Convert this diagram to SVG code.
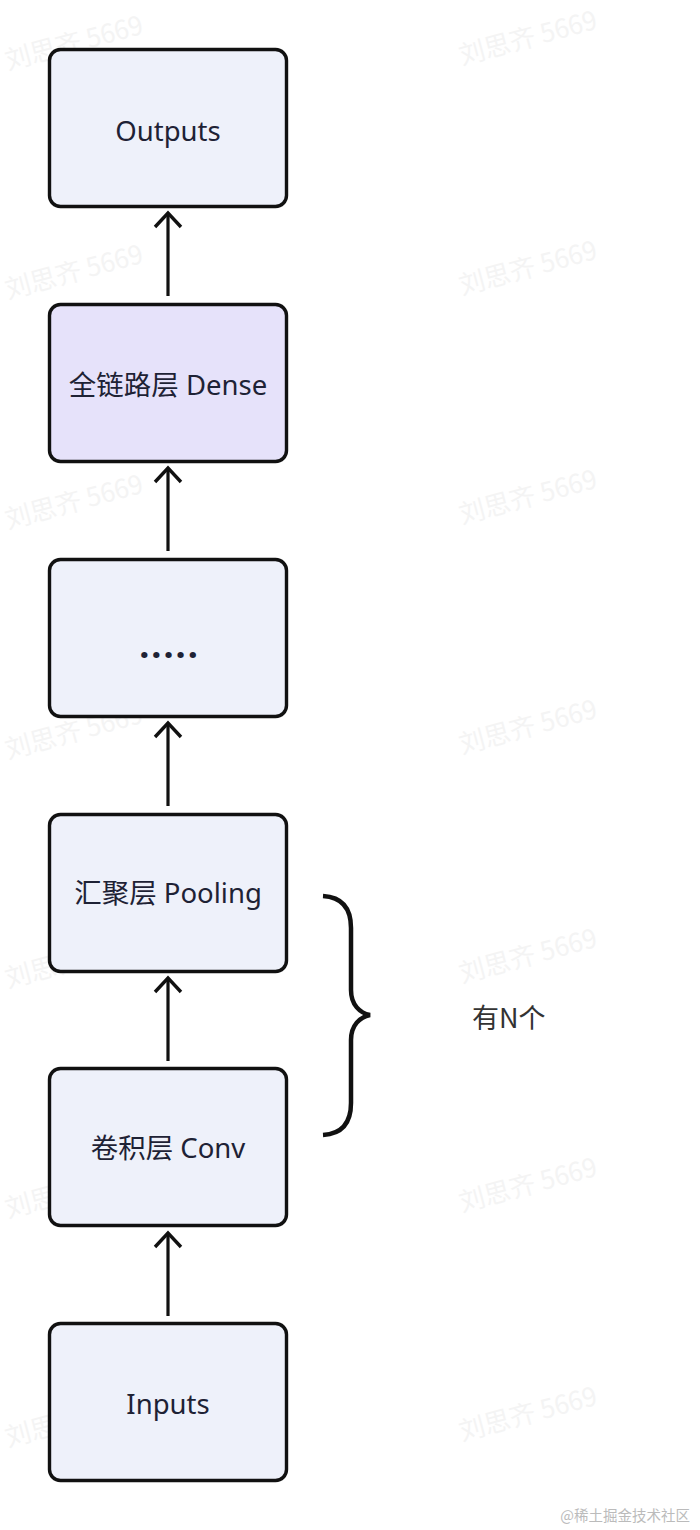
<svg xmlns="http://www.w3.org/2000/svg" width="700" height="1530" viewBox="0 0 700 1530">
  <style>
    .box { fill: #EEF1FA; stroke: #111111; stroke-width: 3.4; }
    .dense { fill: #E6E2FA; }
    .lbl { font-family: "Noto Sans", "Noto Sans CJK SC", sans-serif; font-size: 27.5px; fill: #1E2235; text-anchor: middle; }
    .wm { font-family: "Noto Sans CJK SC", sans-serif; font-size: 26px; fill: #F4F4F4; }
    .conn { stroke: #111111; stroke-width: 3.2; fill: none; }
  </style>
  <defs>
    <marker id="arr" markerUnits="userSpaceOnUse" markerWidth="34" markerHeight="34" viewBox="-2 -2 34 34" refX="16" refY="15" orient="auto" overflow="visible">
      <path d="M2,2 L16,15 L2,28" fill="none" stroke="#111111" stroke-width="3.4" stroke-linejoin="miter"/>
    </marker>
  </defs>
  <rect width="700" height="1530" fill="#FFFFFF"/>

  <g id="watermarks">
    <text class="wm" transform="translate(8,70) rotate(-15)">刘思齐 5669</text>
    <text class="wm" transform="translate(8,299) rotate(-15)">刘思齐 5669</text>
    <text class="wm" transform="translate(8,529) rotate(-15)">刘思齐 5669</text>
    <text class="wm" transform="translate(8,759) rotate(-15)">刘思齐 5669</text>
    <text class="wm" transform="translate(8,988) rotate(-15)">刘思齐 5669</text>
    <text class="wm" transform="translate(8,1218) rotate(-15)">刘思齐 5669</text>
    <text class="wm" transform="translate(8,1447) rotate(-15)">刘思齐 5669</text>
    <text class="wm" transform="translate(462,65) rotate(-15)">刘思齐 5669</text>
    <text class="wm" transform="translate(462,295) rotate(-15)">刘思齐 5669</text>
    <text class="wm" transform="translate(462,524) rotate(-15)">刘思齐 5669</text>
    <text class="wm" transform="translate(462,754) rotate(-15)">刘思齐 5669</text>
    <text class="wm" transform="translate(462,983) rotate(-15)">刘思齐 5669</text>
    <text class="wm" transform="translate(462,1212) rotate(-15)">刘思齐 5669</text>
    <text class="wm" transform="translate(462,1441) rotate(-15)">刘思齐 5669</text>
  </g>

  <g id="connectors">
    <line class="conn" x1="168" y1="1316" x2="168" y2="1233" marker-end="url(#arr)"/>
    <line class="conn" x1="168" y1="1061" x2="168" y2="978" marker-end="url(#arr)"/>
    <line class="conn" x1="168" y1="806" x2="168" y2="723" marker-end="url(#arr)"/>
    <line class="conn" x1="168" y1="551" x2="168" y2="468" marker-end="url(#arr)"/>
    <line class="conn" x1="168" y1="296" x2="168" y2="213" marker-end="url(#arr)"/>
  </g>

  <g id="node-outputs">
    <rect class="box" x="49.5" y="49.5" width="237" height="157" rx="11"/>
    <text class="lbl" x="168" y="141">Outputs</text>
  </g>
  <g id="node-dense">
    <rect class="box dense" x="49.5" y="304.5" width="237" height="157" rx="11"/>
    <text class="lbl" x="168" y="395">全链路层 Dense</text>
  </g>
  <g id="node-ellipsis">
    <rect class="box" x="49.5" y="559.5" width="237" height="157" rx="11"/>
    <text class="lbl" x="169.5" y="658" style="font-size:36px;font-weight:700;letter-spacing:2px">.....</text>
  </g>
  <g id="node-pooling">
    <rect class="box" x="49.5" y="814.5" width="237" height="157" rx="11"/>
    <text class="lbl" x="168" y="903">汇聚层 Pooling</text>
  </g>
  <g id="node-conv">
    <rect class="box" x="49.5" y="1068.5" width="237" height="157" rx="11"/>
    <text class="lbl" x="168" y="1158">卷积层 Conv</text>
  </g>
  <g id="node-inputs">
    <rect class="box" x="49.5" y="1323.5" width="237" height="157" rx="11"/>
    <text class="lbl" x="168" y="1414">Inputs</text>
  </g>

  <g id="brace">
    <path d="M323,896 C340,897 351,906 351,928 L351,990 C351,1005 360,1013 370,1015 C360,1017 351,1025 351,1040 L351,1103 C351,1125 340,1134 323,1135" fill="none" stroke="#111111" stroke-width="4.5" stroke-linejoin="miter"/>
    <text x="472" y="1028" font-family="'Noto Sans CJK SC', sans-serif" font-size="27" fill="#333333">有N个</text>
  </g>

  <text x="690" y="1521" text-anchor="end" font-family="'Noto Sans CJK SC', sans-serif" font-size="14.5" fill="#BBBBBB">@稀土掘金技术社区</text>
</svg>
